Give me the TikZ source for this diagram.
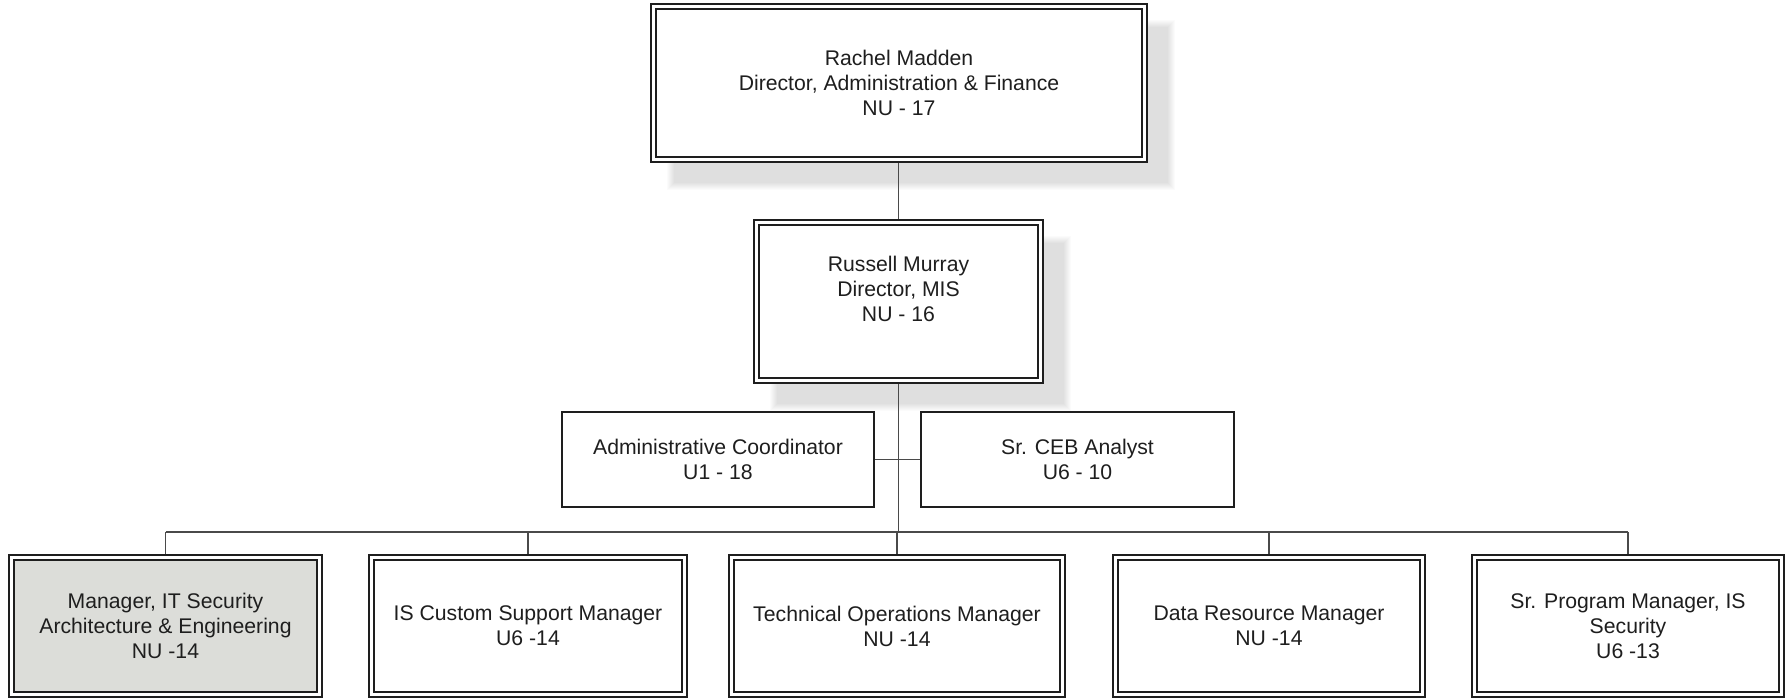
\documentclass[tikz,border=0pt]{standalone}
\usepackage{fontspec}
\setmainfont{Liberation Sans}
\usetikzlibrary{calc,backgrounds}
\definecolor{ink}{HTML}{1E1E1E}
\definecolor{wire}{HTML}{4A4A4A}
\definecolor{paleshade}{HTML}{DCDDD9}

\begin{document}
\begin{tikzpicture}[x=0.5pt,y=-0.5pt,
  every node/.style={font=\fontsize{10.6}{12.5}\selectfont, text=ink, align=center, inner sep=0pt},
  dbox/.style={draw=ink, fill=white, line width=0.85pt, double=white, double distance=1.6pt, outer sep=1.65pt},
  sbox/.style={draw=ink, fill=white, line width=0.8pt, outer sep=0.4pt},
  wirelink/.style={draw=wire, line width=0.55pt}]
\useasboundingbox (0,0) rectangle (1788,698);

% top of the chart
\node[dbox, minimum width=245.5pt, minimum height=76.5pt] (rachel) at (899,83)
  {Rachel Madden\\Director, Administration \& Finance\\NU - 17};
\node[dbox, minimum width=142pt, minimum height=79pt] (russell) at (898.5,301.5)
  {Russell Murray\\Director, MIS\\NU - 16\\\mbox{}};

% staff positions
\node[sbox, minimum width=156pt, minimum height=47.5pt] (admin) at (718,459.5)
  {Administrative Coordinator\\U1 - 18};
\node[sbox, minimum width=156.5pt, minimum height=47.5pt] (ceb) at (1077.5,459.5)
  {Sr. CEB Analyst\\U6 - 10};

% managers
\node[dbox, fill=paleshade, minimum width=154pt, minimum height=68.5pt] (b1) at (165.5,626)
  {Manager, IT Security\\Architecture \& Engineering\\NU -14};
\node[dbox, minimum width=156.5pt, minimum height=68.5pt] (b2) at (528,626)
  {IS Custom Support Manager\\U6 -14};
\node[dbox, minimum width=165.5pt, minimum height=68.5pt] (b3) at (897,626)
  {Technical Operations Manager\\NU -14};
\node[dbox, minimum width=153.5pt, minimum height=68.5pt] (b4) at (1269,626)
  {Data Resource Manager\\NU -14};
\node[dbox, minimum width=153.5pt, minimum height=68.5pt] (b5) at (1628,626)
  {Sr. Program Manager, IS\\Security\\U6 -13};

\coordinate (bus) at (898.5,532);

% connectors
\draw[wirelink] (russell.north) -- (russell.north |- rachel.south);
\draw[wirelink] (russell.south) -- (russell.south |- bus);
\draw[wirelink] (admin.east) -- (ceb.west);
\draw[wirelink] (b1.north |- bus) -- (b5.north |- bus);
\foreach \b in {b1,b2,b3,b4,b5}
  \draw[wirelink] (\b.north) -- (\b.north |- bus);

% soft shadows behind the two director boxes
\begin{scope}[on background layer]
  \fill[white] (0,0) rectangle (1788,698);
  \foreach \n in {rachel,russell}{
    \foreach \k in {0,...,7}{
      \fill[black,opacity=0.017] ($(\n.north west)+(17+\k,17+\k)$) rectangle ($(\n.south east)+(27-\k,27-\k)$);
    }
  }
\end{scope}
\end{tikzpicture}
\end{document}
